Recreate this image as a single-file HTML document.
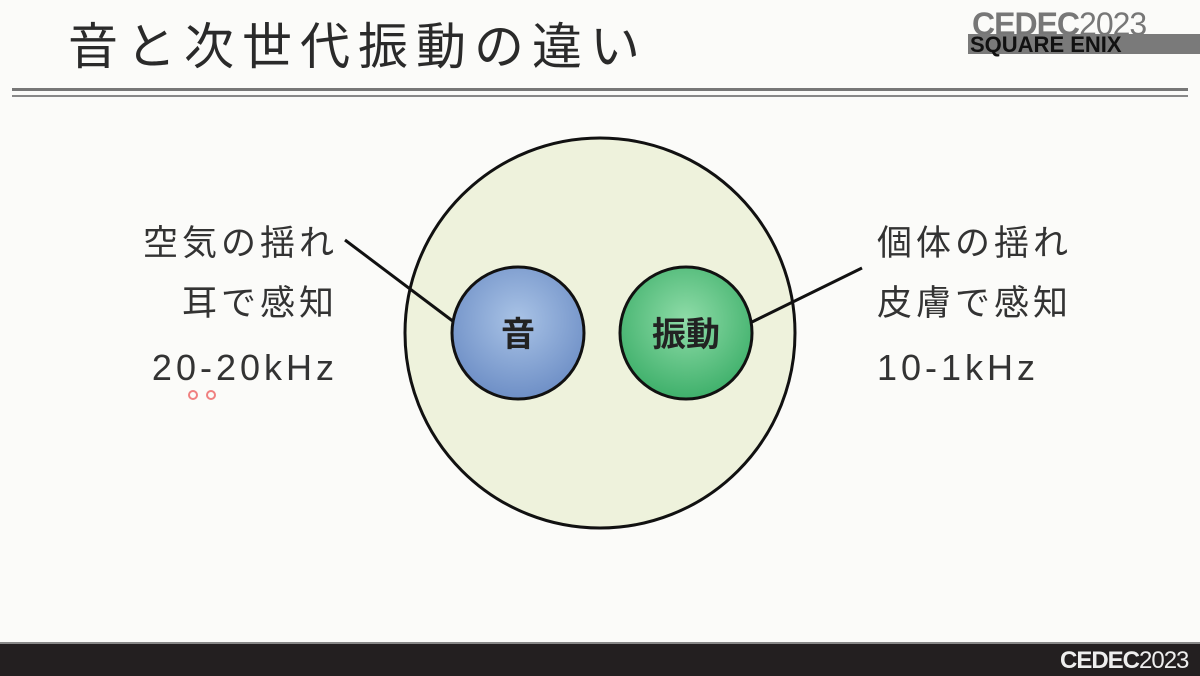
<!DOCTYPE html>
<html><head><meta charset="utf-8"><style>
body{margin:0;width:1200px;height:676px;overflow:hidden;background:#fbfbf9;position:relative;font-family:"Liberation Sans","Noto Sans CJK JP",sans-serif;}
.t{position:absolute;color:#333;font-size:35px;line-height:1;white-space:nowrap;letter-spacing:4px}
</style></head><body>
<div class="t" style="left:68px;top:22px;font-size:50px;color:#2a2a2a;letter-spacing:8px">音と次世代振動の違い</div>
<div style="position:absolute;left:12px;top:88px;width:1176px;height:3px;background:#777"></div>
<div style="position:absolute;left:12px;top:95px;width:1176px;height:2px;background:#888"></div>
<div style="position:absolute;left:972px;top:6px;font-size:32px;color:#777;font-weight:bold;letter-spacing:-1px">CEDEC<span style="font-weight:normal">2023</span></div>
<div style="position:absolute;left:968px;top:34px;width:232px;height:20px;background:#7a7a7a"></div>
<div style="position:absolute;left:970px;top:32px;font-size:22px;font-weight:bold;color:#111;letter-spacing:0px">SQUARE ENIX</div>
<svg style="position:absolute;left:0;top:0" width="1200" height="676">
<defs>
<radialGradient id="b" cx="50%" cy="40%" r="60%"><stop offset="0" stop-color="#a9c3e6"/><stop offset="1" stop-color="#6e8fc6"/></radialGradient>
<radialGradient id="g" cx="50%" cy="40%" r="60%"><stop offset="0" stop-color="#8fdca8"/><stop offset="1" stop-color="#3fb06b"/></radialGradient>
</defs>
<ellipse cx="600" cy="333" rx="195" ry="195" fill="#eef2dc" stroke="#111" stroke-width="3"/>
<line x1="345" y1="240" x2="454" y2="322" stroke="#111" stroke-width="3"/>
<line x1="862" y1="268" x2="752" y2="322" stroke="#111" stroke-width="3"/>
<circle cx="518" cy="333" r="66" fill="url(#b)" stroke="#111" stroke-width="3"/>
<circle cx="686" cy="333" r="66" fill="url(#g)" stroke="#111" stroke-width="3"/>
<text x="518" y="346" text-anchor="middle" font-size="34" font-weight="bold" fill="#222" font-family="Liberation Sans,Noto Sans CJK JP,sans-serif">音</text>
<text x="686" y="346" text-anchor="middle" font-size="34" font-weight="bold" fill="#222" font-family="Liberation Sans,Noto Sans CJK JP,sans-serif">振動</text>
<circle cx="193" cy="395" r="4" fill="none" stroke="#f08080" stroke-width="2"/>
<circle cx="211" cy="395" r="4" fill="none" stroke="#f08080" stroke-width="2"/>
</svg>
<div class="t" style="right:862px;top:226px">空気の揺れ</div>
<div class="t" style="right:862px;top:286px">耳で感知</div>
<div class="t" style="right:862px;top:350px;font-size:36px;letter-spacing:4px">20-20kHz</div>
<div class="t" style="left:877px;top:226px">個体の揺れ</div>
<div class="t" style="left:877px;top:286px">皮膚で感知</div>
<div class="t" style="left:877px;top:350px;font-size:36px;letter-spacing:4px">10-1kHz</div>
<div style="position:absolute;left:0;top:642px;width:1200px;height:34px;background:#231f20;border-top:2px solid #888;box-sizing:border-box"></div>
<div style="position:absolute;left:1060px;top:647px;font-size:24px;color:#eee;letter-spacing:-1px"><b>CEDEC</b>2023</div>
</body></html>
